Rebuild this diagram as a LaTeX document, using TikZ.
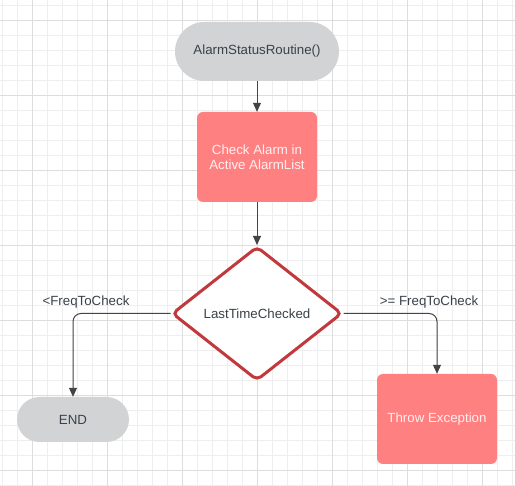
\documentclass[tikz,border=0pt]{standalone}
\usepackage{fontspec}
\setmainfont{Liberation Sans}
\usetikzlibrary{shapes.geometric,arrows.meta}
\definecolor{gridminor}{HTML}{EEEEEE}
\definecolor{gridmajor}{HTML}{DDDDDD}
\definecolor{termfill}{HTML}{D1D3D4}
\definecolor{salmon}{HTML}{FF8080}
\definecolor{dred}{HTML}{C1393D}
\definecolor{txt}{HTML}{3A414A}
\definecolor{conncol}{HTML}{444444}
\begin{document}
\begin{tikzpicture}[x=1pt,y=-1pt,
  every node/.style={font=\fontsize{13.3}{15.5}\selectfont, text=txt, inner sep=0pt},
  term/.style={fill=termfill, draw=none},
  proc/.style={fill=salmon, draw=none, rounded corners=6pt, minimum width=120pt, minimum height=90pt, align=center, text=white!88!salmon},
  dec/.style={diamond, draw=dred, line width=3pt, fill=white, rounded corners=5pt, minimum width=170pt, minimum height=134pt},
  conn/.style={draw=conncol, line width=1pt, -{Triangle[length=9pt,width=8pt]}},
  lbl/.style={text=txt}
]
\useasboundingbox (0,0) rectangle (515,486);
\fill[white] (0,0) rectangle (515,486);
\foreach \x in {2,17,...,512} \draw[gridminor, line width=1pt] (\x,0) -- (\x,486);
\foreach \y in {6,21,...,486} \draw[gridminor, line width=1pt] (0,\y) -- (515,\y);
\foreach \x in {32,107,...,512} \draw[gridmajor, line width=1pt] (\x,0) -- (\x,486);
\foreach \y in {21,96,...,486} \draw[gridmajor, line width=1pt] (0,\y) -- (515,\y);

\node[term, minimum width=164pt, minimum height=59pt, rounded corners=29.5pt] (start) at (257,51.5) {AlarmStatusRoutine()};
\node[proc] (check) at (257,157) {Check Alarm in\\Active AlarmList};
\node[dec] (decision) at (257,313.5) {LastTimeChecked};
\node[term, minimum width=112pt, minimum height=45pt, rounded corners=22.5pt] (endn) at (73,419.5) {END};
\node[proc] (throw) at (437,419) {Throw Exception};

\draw[conn] (start) -- (check);
\draw[conn] (check) -- (decision);
\draw[conn, rounded corners=8pt] (decision.west) -| (endn.north);
\draw[conn, rounded corners=8pt] (decision.east) -| (throw.north);

\node[lbl] (lblleft) at (86,302) {<FreqToCheck};
\node[lbl] (lblright) at (429,302) {>= FreqToCheck};
\end{tikzpicture}
\end{document}
